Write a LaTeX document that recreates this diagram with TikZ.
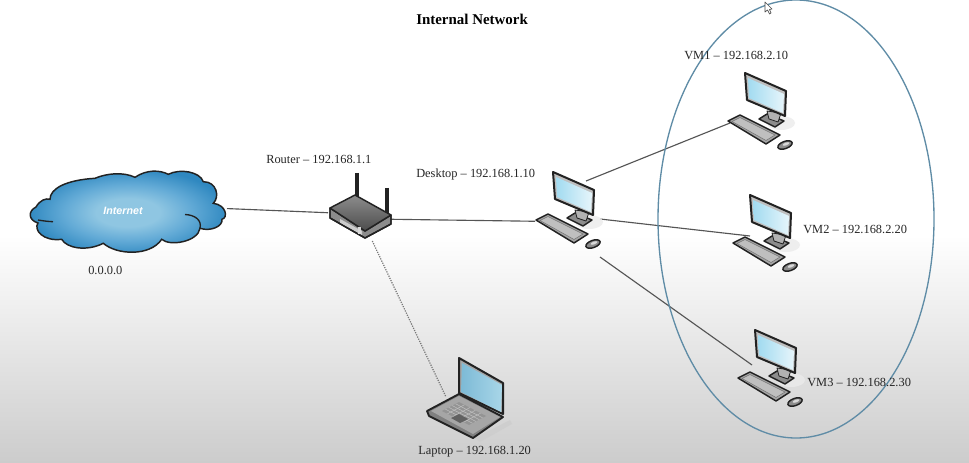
\documentclass[tikz,border=0pt]{standalone}
\usepackage{fontspec}
\setmainfont{Liberation Serif}
\setsansfont{Liberation Sans}
\usetikzlibrary{calc}
\definecolor{outl}{HTML}{222222}
\definecolor{linec}{HTML}{555555}
\definecolor{ringc}{HTML}{5F8CA6}
\definecolor{cloudin}{HTML}{8FC6E2}
\definecolor{cloudmid}{HTML}{62AAD6}
\definecolor{cloudout}{HTML}{2F88C0}
\definecolor{scrl}{HTML}{A2DBF0}
\definecolor{scrr}{HTML}{E6F5FB}
\definecolor{lapl}{HTML}{7DBAD6}
\definecolor{lapr}{HTML}{A8D6E8}
\pgfdeclareradialshading{cloudshade}{\pgfpoint{0bp}{0bp}}{
  color(0bp)=(cloudin); color(8bp)=(cloudin); color(16bp)=(cloudmid); color(25bp)=(cloudout); color(50bp)=(cloudout)}
\tikzset{
  lbl/.style={font=\fontsize{9.3}{11}\selectfont, text=black!85, anchor=west, inner sep=0pt},
  devbox/.style={inner sep=0pt, outer sep=0pt},
  link/.style={draw=linec, line width=0.85pt},
  wlink/.style={draw=linec!80, line width=0.9pt, dash pattern=on 0.9pt off 0.9pt},
  body/.style={draw=outl, line width=1.1pt, line join=round},
  pics/computer/.style={code={
    \fill[black!8, opacity=.8] (36,50) ellipse [x radius=14, y radius=7];
    % stand
    \draw[body, fill=black!45] (14,46) -- (22,41) -- (39,48) -- (30,54) -- cycle;
    \draw[body, fill=black!30, line width=.6pt] (22,38) -- (24,46) -- (33,49) -- (36,40) -- cycle;
    % monitor
    \draw[body, fill=black!25, line width=1.5pt] (0,0) -- (41,18) -- (40,43) -- (2,27) -- cycle;
    \shade[left color=scrl, right color=scrr] (3,5) -- (39,21) -- (38,40) -- (4,25) -- cycle;
    % keyboard
    \draw[body, fill=black!35] (-17,48) -- (-5,42) -- (35,62) -- (21,71) -- cycle;
    \draw[draw=black!55, fill=black!25, line width=.4pt] (-13,48.5) -- (-5,44.5) -- (30,62) -- (21,67.5) -- cycle;
    % mouse
    \draw[body, fill=black!45, rotate around={20:(40,72)}] (40,72) ellipse [x radius=7.5, y radius=3.6];
    \fill[black!15, rotate around={20:(41,71)}] (41,71) ellipse [x radius=3.5, y radius=1.4];
  }}
}
\begin{document}
\begin{tikzpicture}[x=0.75pt,y=-0.75pt]
\useasboundingbox (0,0) rectangle (969,463);
\fill[white] (0,0) rectangle (969,236);
\shade[top color=white, bottom color=black!20] (0,235) rectangle (969,463);

% invisible device boxes
\node[devbox, minimum width=147pt, minimum height=66pt] (cloud) at (129,212) {};
\node[devbox, minimum width=46.5pt, minimum height=37.5pt] (router) at (359,216) {};
\node[devbox, minimum width=48.75pt, minimum height=57pt] (desktop) at (567.5,219) {};
\node[devbox, minimum width=45pt, minimum height=75pt] (vmone) at (760,123) {};
\node[devbox, minimum width=37.5pt, minimum height=54pt] (vmtwo) at (775,236) {};
\node[devbox, minimum width=39.75pt, minimum height=52.5pt] (vmthree) at (778.5,365) {};
\node[devbox, minimum width=43.5pt, minimum height=60pt] (laptop) at (475,397) {};

% connectors
\draw[link] (cloud.2) -- (router.174);
\draw[link] (router.-6) -- (desktop.184);
\draw[wlink] (router.-62) -- (laptop.west);
\draw[link] (desktop.64) -- (vmone.west);
\draw[link] (desktop.east) -- (vmtwo.west);
\draw[link] (desktop.south east) -- (vmthree.west);

% ring
\draw[ringc, line width=1pt] (796,219) ellipse [x radius=138, y radius=219];

% cloud
\path[shading=cloudshade, draw=outl, line width=1.1pt]
  (50,199.3) .. controls (50,188.3) and (66.7,180) .. (95,178.3)
  .. controls (106.7,173.3) and (123.3,171.7) .. (135,177.3)
  .. controls (146.7,169.3) and (160,170) .. (168.3,174.3)
  .. controls (180,168.3) and (200,171.7) .. (203.3,181.7)
  .. controls (216.7,181.7) and (220,196.7) .. (213.3,203.3)
  .. controls (226.7,205) and (228,218) .. (222,219.3)
  .. controls (223,226.7) and (210,231.7) .. (200,228.3)
  .. controls (198,241.7) and (170,246.7) .. (161.7,239.3)
  .. controls (150,256.7) and (116.7,255) .. (103.3,243.3)
  .. controls (86.7,251.7) and (66.7,248.3) .. (61.7,239.3)
  .. controls (43.3,241.7) and (33.3,230) .. (38,223)
  .. controls (28,220) and (28,211) .. (36,207)
  .. controls (40,200) and (46,198) .. (50,199.3) -- cycle;
\draw[outl, line width=1pt] (38,220) .. controls (44,221) and (48,221.5) .. (53,221.7);
\draw[outl, line width=1pt] (185,214.5) .. controls (195,215) and (202,220) .. (200,228.3);
\node[font=\sffamily\itshape\bfseries\fontsize{8}{9}\selectfont, text=white, inner sep=0pt] (inet) at (123,211) {Internet};

% router
\draw[outl, line width=2.6pt] (357,173) -- (357,198);
\draw[outl, line width=2.6pt] (387,188) -- (387,214);
\draw[body, fill=black!45] (330,208) -- (330,218) -- (365,238) -- (391,224) -- (391,215) -- (365,231) -- cycle;
\fill[black!20] (340,223) -- (362,235) -- (362,231) -- (340,219) -- cycle;
\shade[body, draw=outl, top color=black!45, bottom color=black!70] (330,208) -- (355,195) -- (391,215) -- (365,231) -- cycle;
\draw[outl, line width=1.1pt, line join=round] (330,208) -- (330,218) -- (365,238) -- (391,224) -- (391,215);
\fill[black!15] (358,227) rectangle (361,234);

% desktop and VMs
\pic at (553,172) {computer};
\pic at (745,73) {computer};
\pic at (750,195) {computer};
\pic at (755,330) {computer};

% laptop
\fill[black!20, opacity=.7] (475,438) -- (510,420) -- (512,424) -- (480,442) -- cycle;
\draw[body, fill=black!35, line width=1.5pt] (459,358) -- (503,383) -- (503,414) -- (459,393) -- cycle;
\shade[left color=lapl, right color=lapr] (462,363) -- (502,385) -- (501,412) -- (461,392) -- cycle;
\draw[body, fill=black!50, line width=1.4pt] (427,411) -- (459,394) -- (503,417) -- (473,438) -- (429,416) -- cycle;
\fill[black!35] (431,411) -- (459,396) -- (500,417) -- (473,434) -- cycle;
\fill[black!42] (442,411) -- (459,402) -- (486,416) -- (469,425) -- cycle;
\foreach \t in {0.2,0.4,0.6,0.8}{
  \draw[black!25, line width=.4pt] ($(442,411)!\t!(469,425)$) -- ($(459,402)!\t!(486,416)$);
  \draw[black!25, line width=.4pt] ($(442,411)!\t!(459,402)$) -- ($(469,425)!\t!(486,416)$);
}
\fill[black!62] (451,418) -- (459,414) -- (468,419) -- (460,423) -- cycle;

% labels
\node[lbl, font=\fontsize{11.2}{13}\selectfont\bfseries, text=black] (title) at (416,19) {Internal Network};
\node[lbl] (lvmone) at (684,55) {VM1 – 192.168.2.10};
\node[lbl] (lrouter) at (266,159) {Router – 192.168.1.1};
\node[lbl] (ldesktop) at (416,175) {Desktop – 192.168.1.10};
\node[lbl] (lvmtwo) at (803,229) {VM2 – 192.168.2.20};
\node[lbl] (lvmthree) at (807,382) {VM3 – 192.168.2.30};
\node[lbl] (llaptop) at (418,452) {Laptop – 192.168.1.20};
\node[lbl] (lzero) at (88,270) {0.0.0.0};

% mouse pointer
\draw[fill=white, draw=black!70, line width=.5pt, line join=round] (765,2) -- (765,12) -- (767.5,10) -- (769.5,14) -- (771,13) -- (769.5,9.5) -- (772,9) -- cycle;
\end{tikzpicture}
\end{document}
